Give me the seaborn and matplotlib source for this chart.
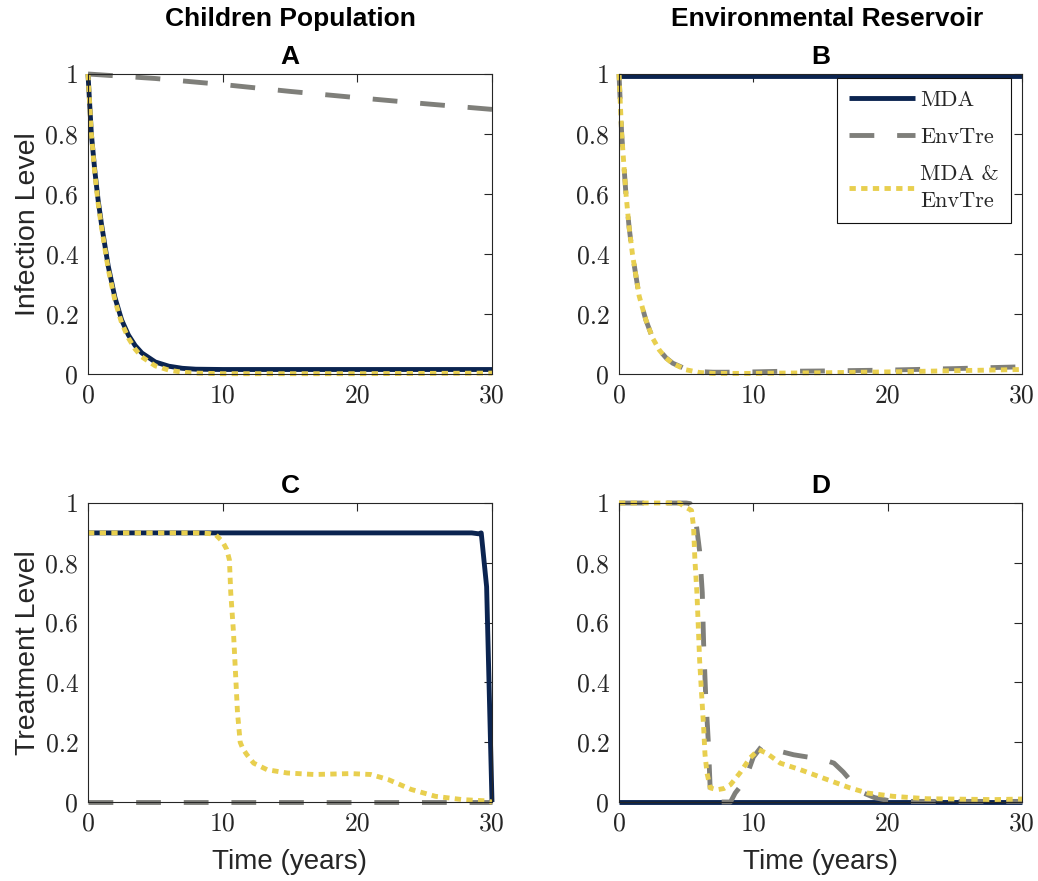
import numpy as np
import matplotlib
matplotlib.use("Agg")
import matplotlib.pyplot as plt
import seaborn as sns

# colours of the three strategies
NAVY = "#0b2450"
GRAY = "#7f7f7a"
YELLOW = "#e8cf4f"

# ---- panel A: children infection level ----
tA = [0, 0.25, 0.5, 0.75, 1, 1.5, 2, 2.5, 3, 3.5, 4, 5, 6, 7, 8, 10, 15, 20, 25, 30]
A_mda = [1.0, 0.80, 0.68, 0.58, 0.50, 0.36, 0.255, 0.18, 0.13, 0.095, 0.07, 0.04,
         0.026, 0.019, 0.016, 0.015, 0.015, 0.015, 0.015, 0.015]
A_both = [1.0, 0.80, 0.67, 0.57, 0.49, 0.35, 0.245, 0.17, 0.12, 0.083, 0.057, 0.027,
          0.013, 0.006, 0.003, 0.001, 0.001, 0.001, 0.002, 0.003]
tA_env = [0, 5, 10, 15, 20, 25, 30]
A_env = [1.0, 0.985, 0.965, 0.942, 0.921, 0.901, 0.882]

# ---- panel B: environmental reservoir infection level ----
tB = [0, 0.2, 0.5, 0.75, 1, 1.5, 2, 2.5, 3, 3.5, 4, 5, 6, 7, 8, 10, 12, 15, 20, 25, 30]
B_env = [1.0, 0.80, 0.61, 0.49, 0.40, 0.26, 0.18, 0.12, 0.08, 0.054, 0.036, 0.016,
         0.008, 0.006, 0.006, 0.007, 0.009, 0.010, 0.013, 0.018, 0.024]
B_both = [1.0, 0.80, 0.61, 0.49, 0.40, 0.26, 0.18, 0.12, 0.08, 0.053, 0.035, 0.014,
          0.005, 0.002, 0.002, 0.002, 0.003, 0.004, 0.007, 0.011, 0.015]
tB_mda = [0, 10, 20, 30]
B_mda = [0.995, 0.995, 0.995, 0.995]

# ---- panel C: children treatment level ----
tC_mda = [0, 28.5, 29.0, 29.2, 29.6, 30]
C_mda = [0.9, 0.9, 0.897, 0.9, 0.72, 0.0]
tC_env = [0, 30]
C_env = [0.0, 0.0]
tC_both = [0, 8, 9, 9.5, 10, 10.3, 10.5, 10.6, 10.8, 11, 11.1, 11.3, 11.5, 11.8, 12.3,
           13.3, 14.8, 16.8, 19.5, 21, 22.3, 24, 25.8, 27.8, 29.5, 30]
C_both = [0.9, 0.9, 0.898, 0.893, 0.87, 0.845, 0.81, 0.70, 0.57, 0.39, 0.30, 0.20,
          0.178, 0.158, 0.13, 0.108, 0.097, 0.092, 0.095, 0.092, 0.075, 0.042, 0.019,
          0.008, 0.004, 0.0]

# ---- panel D: environmental treatment level ----
tD_mda = [0, 30]
D_mda = [0.0, 0.0]
tD_env = [0, 5, 5.3, 5.5, 5.75, 6.0, 6.2, 6.3, 6.45, 6.65, 6.8, 6.9, 8.3, 8.65, 9.0,
          9.4, 10.0, 10.6, 11.5, 13.0, 15.2, 16.0, 16.7, 17.5, 18.2, 19.0, 19.7, 20.4, 30]
D_env = [1.0, 1.0, 0.998, 0.975, 0.93, 0.84, 0.70, 0.53, 0.36, 0.20, 0.03, 0.0, 0.0,
         0.03, 0.05, 0.075, 0.15, 0.185, 0.175, 0.158, 0.142, 0.13, 0.10, 0.058, 0.03,
         0.015, 0.008, 0.002, 0.002]
tD_both = [0, 4.5, 4.8, 5.4, 5.55, 5.65, 5.8, 5.9, 6.0, 6.15, 6.3, 6.4, 6.55, 6.8, 7.3,
           7.8, 8.3, 9.0, 9.75, 10.4, 11.0, 12.0, 13.5, 15.5, 17.2, 18.5, 20.4, 22.9, 27.9, 30]
D_both = [1.0, 1.0, 0.99, 0.975, 0.92, 0.81, 0.70, 0.59, 0.475, 0.36, 0.25, 0.16, 0.097,
          0.047, 0.041, 0.045, 0.058, 0.097, 0.147, 0.175, 0.163, 0.13, 0.108, 0.075,
          0.047, 0.03, 0.019, 0.011, 0.008, 0.01]

x_ticks = [0, 10, 20, 30]
x_tick_labels = ["0", "10", "20", "30"]
y_ticks = [0, 0.2, 0.4, 0.6, 0.8, 1]
y_tick_labels = ["0", "0.2", "0.4", "0.6", "0.8", "1"]
legend_labels = ["MDA", "EnvTre", "MDA &\nEnvTre"]

sns.set_style("white")
plt.rcParams["font.family"] = ["Liberation Sans", "DejaVu Sans"]

SANS = "Liberation Sans"
SERIF = "cmr10"
LW = 3.5
DASHED = (0, (5.1, 4.7))
DOTTED = (0, (1.3, 1.1))
TXT = "#262626"

W, H = 1038, 881
fig = plt.figure(figsize=(W / 100, H / 100), dpi=100)


def make_axes(left, top, right, bottom):
    return fig.add_axes([left / W, 1 - bottom / H, (right - left) / W, (bottom - top) / H])


axA = make_axes(88, 74, 492, 374)
axB = make_axes(619, 74, 1022, 374)
axC = make_axes(88, 503, 492, 802)
axD = make_axes(619, 503, 1022, 802)

panels = [
    (axA, "A", (tA, A_mda), (tA_env, A_env), (tA, A_both)),
    (axB, "B", (tB_mda, B_mda), (tB, B_env), (tB, B_both)),
    (axC, "C", (tC_mda, C_mda), (tC_env, C_env), (tC_both, C_both)),
    (axD, "D", (tD_mda, D_mda), (tD_env, D_env), (tD_both, D_both)),
]

for ax, letter, mda, env, both in panels:
    sns.lineplot(x=mda[0], y=mda[1], ax=ax, color=NAVY, lw=LW, estimator=None,
                 sort=False, clip_on=False, solid_capstyle="butt")
    sns.lineplot(x=env[0], y=env[1], ax=ax, color=GRAY, lw=LW, estimator=None,
                 sort=False, clip_on=False, linestyle=DASHED)
    sns.lineplot(x=both[0], y=both[1], ax=ax, color=YELLOW, lw=LW, estimator=None,
                 sort=False, clip_on=False, linestyle=DOTTED)
    ax.set_xlim(0, 30)
    ax.set_ylim(0, 1)
    ax.set_xticks(x_ticks)
    ax.set_xticklabels(x_tick_labels, fontfamily=SERIF, fontsize=18.5, color=TXT)
    ax.set_yticks(y_ticks)
    ax.set_yticklabels(y_tick_labels, fontfamily=SERIF, fontsize=18.5, color=TXT)
    ax.tick_params(direction="in", top=True, right=True, length=6, width=0.8,
                   color=TXT, pad=7)
    for sp in ax.spines.values():
        sp.set_color(TXT)
        sp.set_linewidth(0.8)
    ax.set_xlabel("")
    ax.set_ylabel("")
    ax.set_title(letter, fontfamily=SANS, fontweight="bold", fontsize=19, pad=7,
                 color="black")

axA.set_ylabel("Infection Level", fontfamily=SANS, fontsize=20.5, labelpad=3, color=TXT)
axC.set_ylabel("Treatment Level", fontfamily=SANS, fontsize=20.5, labelpad=3, color=TXT)
axC.set_xlabel("Time (years)", fontfamily=SANS, fontsize=20, labelpad=10, color=TXT)
axD.set_xlabel("Time (years)", fontfamily=SANS, fontsize=20, labelpad=10, color=TXT)

fig.text(290 / W, 1 - 19 / H, "Children Population", ha="center", va="center",
         fontfamily=SANS, fontweight="bold", fontsize=19, color="black")
fig.text(827 / W, 1 - 19 / H, "Environmental Reservoir", ha="center", va="center",
         fontfamily=SANS, fontweight="bold", fontsize=19, color="black")

leg = axB.legend(axB.get_lines()[:3], legend_labels, loc="upper right",
                 bbox_to_anchor=(0.973, 0.987), borderaxespad=0,
                 prop={"family": SERIF, "size": 16},
                 frameon=True, fancybox=False, framealpha=1, edgecolor="#111111",
                 handlelength=2.95, labelspacing=0.8, borderpad=0.55, handletextpad=0.25)
leg.get_frame().set_linewidth(0.8)
leg.get_texts()[2].set_linespacing(1.45)

fig.savefig("out.png", dpi=100)
